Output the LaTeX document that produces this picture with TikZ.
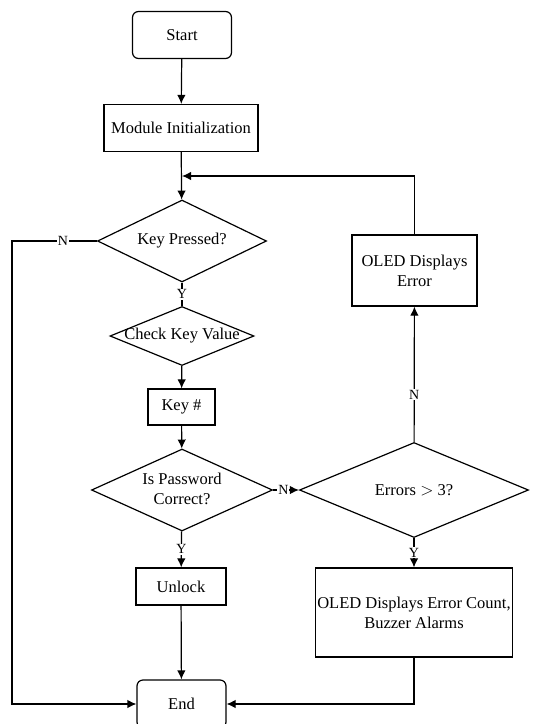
\documentclass[tikz,border=0pt]{standalone}
\usepackage{fontspec}
\setmainfont{Liberation Serif}
\usetikzlibrary{arrows.meta,shapes.geometric}
\newcommand\nowide[1]{\makebox[0pt]{#1}}

\begin{document}
\begin{tikzpicture}[x=1pt,y=-1pt,line width=1.2pt,
	>={Latex[length=9pt,width=8.5pt]},
	box/.style={draw, rectangle, inner sep=2pt, align=center, font=\fontsize{16.5}{20}\selectfont},
	term/.style={box, rounded corners=6pt},
	decide/.style={draw, diamond, aspect=2, inner sep=0pt, font=\fontsize{16.5}{20}\selectfont},
	yn/.style={fill=white, inner sep=1pt, font=\fontsize{14}{16}\selectfont}]
\useasboundingbox (0,0) rectangle (539,724);

% main column
\node[term, minimum width=99pt, minimum height=47pt] (start) at (182,35) {Start};
\node[box, minimum width=154pt, minimum height=47pt] (init) at (181,128) {Module Initialization};
\node[decide, minimum width=169pt, minimum height=82pt] (key) at (182,241) {\nowide{Key Pressed?}};
\node[decide, minimum width=144pt, minimum height=59pt] (check) at (182,336) {\nowide{Check Key Value}};
\node[box, minimum width=67pt, minimum height=36pt] (num) at (181.5,407) {Key \#};
\node[decide, minimum width=181pt, minimum height=82pt] (pw) at (182,490)
	{\nowide{\begin{tabular}{@{}c@{}}Is Password\\Correct?\end{tabular}}};
\node[box, minimum width=90pt, minimum height=37pt] (unlock) at (181,586.5) {Unlock};
\node[term, minimum width=89pt, minimum height=48pt] (end) at (181.5,704) {End};

% error branch
\node[decide, minimum width=229pt, minimum height=95pt] (err) at (414,490) {\nowide{Errors $>$ 3?}};
\node[box, minimum width=125pt, minimum height=71pt] (olederr) at (414.5,270.5) {OLED Displays\\Error};
\node[box, minimum width=196pt, minimum height=89pt] (count) at (414,612.5)
	{OLED Displays Error Count,\\Buzzer Alarms};

\coordinate (join) at (182,176);
\coordinate (edgeL) at (12,0);

\draw [->] (start) -- (init);
\draw [->] (init) -- (key);
\draw (key) -- node[yn]{Y} (check);
\draw [->] (check) -- (num);
\draw [->] (num) -- (pw);
\draw [->] (pw) -- node[yn]{Y} (unlock);
\draw [->] (unlock) -- (end);
\draw [->] (pw) -- node[yn,pos=.4]{N} (err);
\draw [->] (err) -- node[yn,pos=.35]{N} (olederr);
\draw [->] (err) -- node[yn]{Y} (count);
\draw [->] (olederr.north) |- (join);
\draw [->] (key.west) -- node[yn,pos=.4]{N} (key.west -| edgeL) |- (end.west);
\draw [->] (count.south) |- (end.east);
\end{tikzpicture}
\end{document}
